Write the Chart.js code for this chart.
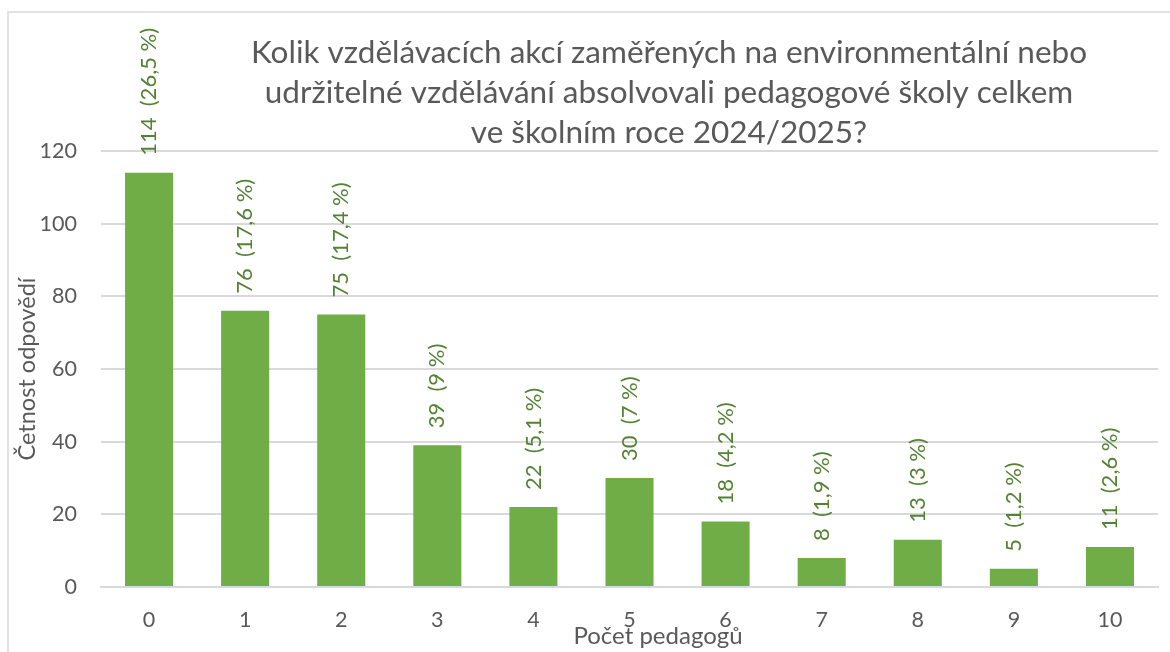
<!DOCTYPE html>
<html>
<head>
<meta charset="utf-8">
<script src="https://cdn.jsdelivr.net/npm/chart.js@4.4.1/dist/chart.umd.min.js"></script>
<style>
  html, body { margin: 0; padding: 0; background: #fff; }
  #wrap { width: 1170px; height: 652px; position: relative; }
</style>
</head>
<body>
<div id="wrap"><canvas id="c" width="1170" height="652"></canvas></div>
<script>
const categories = ['0', '1', '2', '3', '4', '5', '6', '7', '8', '9', '10'];
const counts = [114, 76, 75, 39, 22, 30, 18, 8, 13, 5, 11];
const percentLabels = ['26,5 %', '17,6 %', '17,4 %', '9 %', '5,1 %', '7 %', '4,2 %', '1,9 %', '3 %', '1,2 %', '2,6 %'];
const titleLines = [
  'Kolik vzdělávacích akcí zaměřených na environmentální nebo',
  'udržitelné vzdělávání absolvovali pedagogové školy celkem',
  've školním roce 2024/2025?'
];
const xAxisTitle = 'Počet pedagogů';
const yAxisTitle = 'Četnost odpovědí';
const yTicks = [0, 20, 40, 60, 80, 100, 120];

const FONT = 'Lato, "Open Sans", sans-serif';
const GRAY = '#595959';
const BAR = '#70AD47';
const LABEL = '#548235';

const framePlugin = {
  id: 'frame',
  beforeDraw(chart) {
    const ctx = chart.ctx;
    ctx.save();
    ctx.fillStyle = '#fff';
    ctx.fillRect(0, 0, chart.width, chart.height);
    ctx.strokeStyle = '#D9D9D9';
    ctx.lineWidth = 1.5;
    ctx.beginPath();
    ctx.moveTo(8, chart.height + 2);
    ctx.lineTo(8, 12);
    ctx.lineTo(chart.width + 2, 12);
    ctx.stroke();
    ctx.restore();
  }
};

const textPlugin = {
  id: 'texts',
  afterDraw(chart) {
    const ctx = chart.ctx;
    ctx.save();
    // title
    ctx.fillStyle = GRAY;
    ctx.font = '31.5px ' + FONT;
    ctx.textAlign = 'center';
    ctx.textBaseline = 'middle';
    titleLines.forEach((t, i) => ctx.fillText(t, 669, 53 + i * 40));
    // x axis title
    ctx.font = '24px ' + FONT;
    ctx.fillText(xAxisTitle, 658, 636);
    // data labels
    const meta = chart.getDatasetMeta(0);
    ctx.fillStyle = LABEL;
    ctx.font = '22px ' + FONT;
    ctx.textAlign = 'left';
    meta.data.forEach((bar, i) => {
      ctx.save();
      ctx.translate(bar.x, bar.y - 17);
      ctx.rotate(-Math.PI / 2);
      ctx.fillText(counts[i] + '  (' + percentLabels[i] + ')', 0, 0);
      ctx.restore();
    });
    ctx.restore();
  }
};

new Chart(document.getElementById('c'), {
  type: 'bar',
  data: {
    labels: categories,
    datasets: [{
      data: counts,
      backgroundColor: BAR,
      borderWidth: 0,
      barPercentage: 0.5,
      categoryPercentage: 1.0
    }]
  },
  options: {
    responsive: false,
    animation: false,
    layout: { padding: { top: 151, right: 12, left: 8, bottom: 0 } },
    plugins: { legend: { display: false }, tooltip: { enabled: false }, title: { display: false } },
    scales: {
      x: {
        grid: { display: false, drawTicks: false },
        border: { color: '#D9D9D9', width: 2 },
        ticks: { color: GRAY, font: { family: FONT, size: 21.5 }, padding: 20 },
        afterFit(scale) { scale.height = 65; }
      },
      y: {
        min: 0, max: 120,
        afterBuildTicks(scale) { scale.ticks = yTicks.map(v => ({ value: v })); },
        grid: { color: '#D9D9D9', lineWidth: 2, drawTicks: false },
        border: { display: false },
        ticks: { color: GRAY, font: { family: FONT, size: 21.5 }, padding: 24 },
        title: { display: true, text: yAxisTitle, color: GRAY, font: { family: FONT, size: 23.5 }, padding: { top: 5, bottom: 0 } },
        afterFit(scale) { scale.width = 93; }
      }
    }
  },
  plugins: [framePlugin, textPlugin]
});
</script>
</body>
</html>
